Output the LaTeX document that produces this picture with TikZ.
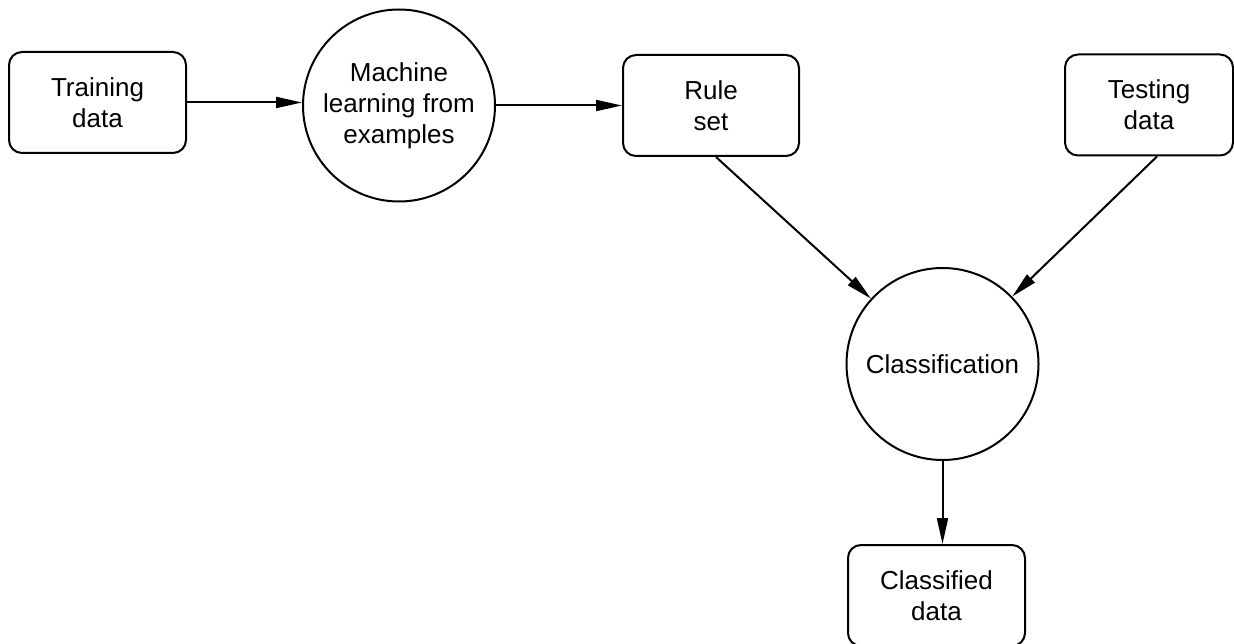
\documentclass[tikz,border=0pt]{standalone}
\usepackage{fontspec}
\setmainfont{Liberation Sans}
\usetikzlibrary{arrows.meta}

\begin{document}
\begin{tikzpicture}[x=1pt,y=-1pt,
  every node/.style={font=\fontsize{26}{31}\selectfont, align=center, inner sep=0pt},
  databox/.style={draw, line width=2pt, rounded corners=13pt,
    minimum width=#1, minimum height=101pt},
  databox/.default=177pt,
  process/.style={draw, circle, line width=2pt, minimum size=192pt},
  flow/.style={line width=2pt, -{Triangle[length=26pt,width=11pt]}}
]
  % canvas
  \useasboundingbox (0,0) rectangle (1234,644);

  % stores
  \node[databox] (train) at (97.5,102.5) {Training\\data};
  \node[databox=176pt] (rules) at (711,105.5) {Rule\\set};
  \node[databox=168pt] (test) at (1149,105) {Testing\\data};
  \node[databox] (out) at (936.5,595.5) {Classified\\data};

  % processes
  \node[process] (learn) at (399,105.5) {Machine\\learning from\\examples};
  \node[process] (cls) at (942.5,364) {Classification};

  % data flow
  \draw[flow] (train.east) -- (train.east -| learn.west);
  \draw[flow] (learn.east) -- (learn.east -| rules.west);
  \draw[flow] ([xshift=5pt]rules.south) -- (cls);
  \draw[flow] ([xshift=8pt]test.south) -- (cls);
  \draw[flow] (cls.south) -- (cls.south |- out.north);
\end{tikzpicture}
\end{document}
